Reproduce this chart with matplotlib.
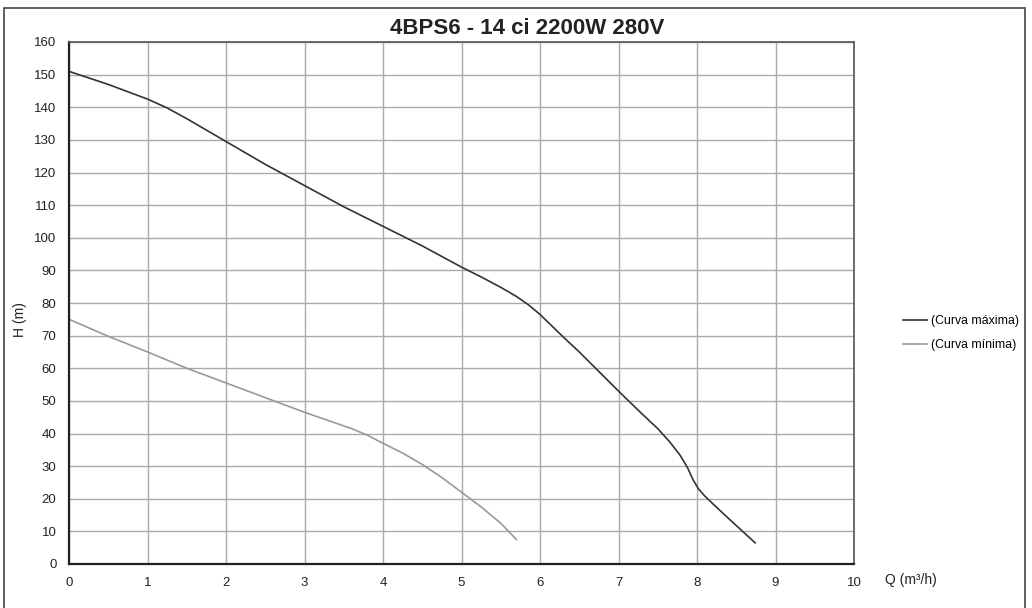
import matplotlib.pyplot as plt
from matplotlib.patches import Rectangle

plt.rcParams['font.family'] = ['Liberation Sans', 'DejaVu Sans']

# curva máxima
q_max = [0, 0.5, 1, 1.25, 1.5, 1.75, 2, 2.5, 3, 3.5, 4, 4.5, 5, 5.25, 5.5, 5.7, 5.85, 6.0, 6.15, 6.3, 6.5, 7.0, 7.3, 7.5, 7.65, 7.78, 7.88, 7.95, 8.02, 8.1, 8.2, 8.4, 8.74]
h_max = [151, 147, 142.5, 139.8, 136.5, 133, 129.5, 122.5, 116, 109.5, 103.5, 97.5, 91, 88, 84.8, 82, 79.5, 76.5, 73, 69.5, 65, 53, 46, 41.5, 37.5, 33.5, 29.5, 25.8, 23, 20.8, 18.5, 14, 6.5]

# curva mínima
q_min = [0, 0.5, 1, 1.5, 2, 2.5, 3, 3.3, 3.6, 3.8, 4, 4.25, 4.5, 4.75, 5, 5.25, 5.5, 5.7]
h_min = [75, 69.8, 65, 60, 55.5, 51, 46.5, 44, 41.5, 39.5, 37, 34, 30.5, 26.5, 22, 17.5, 12.5, 7.5]

x_ticks = list(range(0, 11))
y_ticks = list(range(0, 161, 10))

fig = plt.figure(figsize=(10.32, 6.08), dpi=100)
ax = fig.add_axes([69 / 1032, 1 - 564 / 608, (854 - 69) / 1032, (564 - 42) / 608])

ax.plot(q_max, h_max, color='#333333', lw=1.2, label='(Curva máxima)')
ax.plot(q_min, h_min, color='#999999', lw=1.2, label='(Curva mínima)')

ax.set_xlim(0, 10)
ax.set_ylim(0, 160)
ax.set_xticks(x_ticks)
ax.set_yticks(y_ticks)
ax.tick_params(length=0, labelsize=9.5, pad=9, colors='#222222')
ax.grid(True, color='#aaaaaa', lw=1)
ax.set_axisbelow(True)
for s in ax.spines.values():
    s.set_color('#555555')
    s.set_linewidth(1.2)
ax.spines['left'].set_color('#222222')
ax.spines['bottom'].set_color('#222222')
ax.spines['left'].set_linewidth(1.6)
ax.spines['bottom'].set_linewidth(1.6)

fig.text(0.511, 1 - 28 / 608, '4BPS6 - 14 ci 2200W 280V', ha='center', va='center',
         fontsize=16, fontweight='bold', color='#222222')
fig.text(885 / 1032, 1 - 580 / 608, 'Q (m³/h)', ha='left', va='center', fontsize=10, color='#222222')
fig.text(20 / 1032, 1 - 320 / 608, 'H (m)', ha='center', va='center', rotation=90,
         fontsize=10, color='#222222')

ax.legend(loc='upper left', bbox_to_anchor=(903 / 1032, 1 - 315 / 608),
          bbox_transform=fig.transFigure, frameon=False, fontsize=8.8,
          borderpad=0, borderaxespad=0, handlelength=2.0, handletextpad=0.3,
          labelspacing=1.0)

fig.patches.append(Rectangle((4 / 1032, -0.05), (1025 - 4) / 1032, 1 - 8 / 608 + 0.05,
                             transform=fig.transFigure, fill=False, edgecolor='#444444', lw=1.2))

fig.savefig('out.png', dpi=100)
